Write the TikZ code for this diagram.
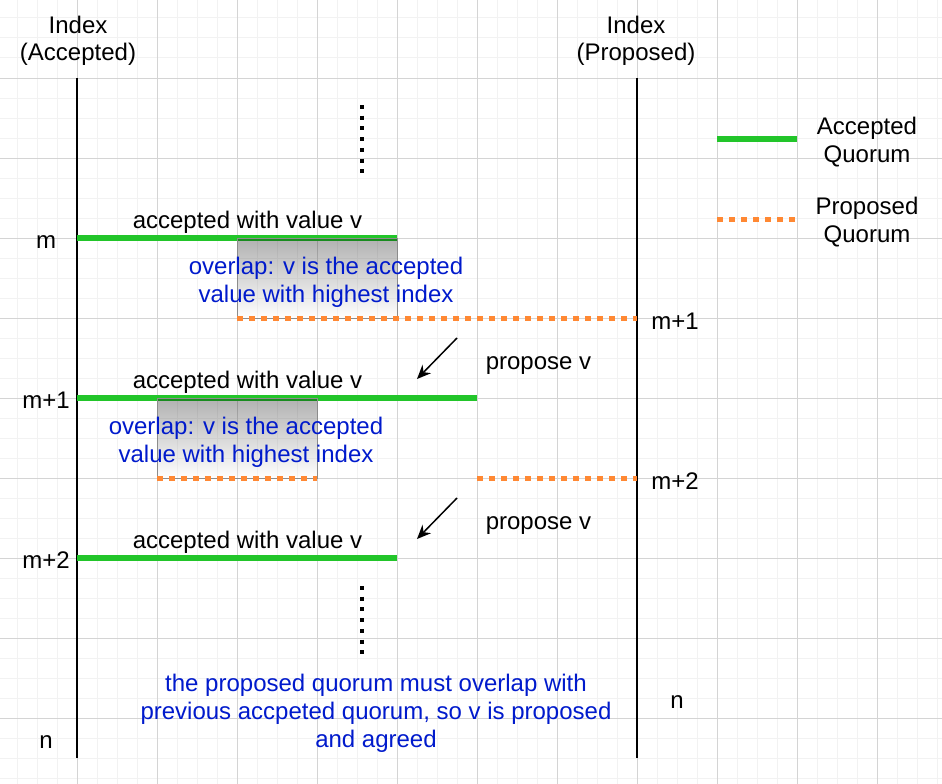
\documentclass[tikz,border=0pt]{standalone}
\usepackage{fontspec}
\setmainfont{Liberation Sans}
\usepackage{xcolor}
\usetikzlibrary{arrows.meta}

\definecolor{quorumgreen}{RGB}{34,197,42}
\definecolor{quorumorange}{RGB}{255,136,51}
\definecolor{noteblue}{RGB}{0,26,204}
\definecolor{gridminor}{RGB}{242,242,242}
\definecolor{gridmajor}{RGB}{212,212,212}

\tikzset{
  accepted/.style={draw=quorumgreen, line width=5.5pt},
  proposed/.style={draw=quorumorange, line width=5pt, dash pattern=on 6pt off 6pt},
  indexline/.style={draw=black, line width=2.5pt},
  dotline/.style={draw=black, line width=4pt, dash pattern=on 4pt off 6.7pt},
  overlapbox/.style={top color=black, bottom color=white, fill opacity=0.3, draw=black!45, line width=1pt},
  lbl/.style={font=\fontsize{24}{28}\selectfont, inner sep=0pt, align=center, anchor=base},
  note/.style={lbl, text=noteblue},
}

\begin{document}
\begin{tikzpicture}[x=1pt, y=-1pt]
            \useasboundingbox (0,0) rectangle (942,784);
            \fill[white] (0,0) rectangle (942,784);

            % grid
            \foreach \gx in {17,37,...,937} \draw[gridminor, line width=1pt] (\gx,0) -- (\gx,784);
            \foreach \gy in {18,38,...,778} \draw[gridminor, line width=1pt] (0,\gy) -- (942,\gy);
            \foreach \gx in {77,157,...,877} \draw[gridmajor, line width=1pt] (\gx,0) -- (\gx,784);
            \foreach \gy in {78,158,...,718} \draw[gridmajor, line width=1pt] (0,\gy) -- (942,\gy);

            % index axes
            \coordinate (acctop) at (77,78);
            \coordinate (accbot) at (77,758);
            \coordinate (proptop) at (637,78);
            \coordinate (propbot) at (637,758);
            \draw[indexline] (acctop) -- (accbot); % accepted
            \draw[indexline] (proptop) -- (propbot); % proposed
            \node[lbl] (idxacc) at (78,61) {Index\\(Accepted)};
            \node[lbl] (idxprop) at (636,61) {Index\\(Proposed)};

            % accepted quorums
            \draw[accepted] (77,238) -- (397,238); % m
            \draw[accepted] (77,398) -- (477,398); % m+1
            \draw[accepted] (77,558) -- (397,558); % m+2
            \node[lbl] (accm) at (247.5,228) {accepted with value v};
            \node[lbl] (accmone) at (247.5,388) {accepted with value v};
            \node[lbl] (accmtwo) at (247.5,548) {accepted with value v};

            % overlaps
            \shadedraw[overlapbox] (237,238) rectangle (397,318);
            \shadedraw[overlapbox] (157,398) rectangle (317,478);

            % proposed quorums
            \draw[proposed] (237,318) -- (637,318); % m+1
            \draw[proposed] (157,478) -- (317,478); % m+2
            \draw[proposed] (477,478) -- (637,478);

            \node[note] (ovlone) at (326,302) {overlap: v is the accepted\\value with highest index};
            \node[note] (ovltwo) at (246,462) {overlap: v is the accepted\\value with highest index};

            % propose arrows
            \coordinate (propsone) at (457,338);
            \coordinate (propeone) at (417,379);
            \coordinate (propstwo) at (457,498);
            \coordinate (propetwo) at (417,539);
            \draw[line width=1.5pt, -{Stealth[length=14pt, width=12pt]}] (propsone) -- (propeone);
            \draw[line width=1.5pt, -{Stealth[length=14pt, width=12pt]}] (propstwo) -- (propetwo);
            \node[lbl] (propone) at (538.5,369) {propose v};
            \node[lbl] (proptwo) at (538.5,529) {propose v};

            % dots
            \draw[dotline] (362,105) -- (362,175);
            \draw[dotline] (362,586) -- (362,656);

            % index labels
            \node[lbl] (lm) at (46,248) {m};
            \node[lbl] (lmone) at (46,408) {m+1};
            \node[lbl] (lmtwo) at (46,568) {m+2};
            \node[lbl] (ln) at (46,748) {n};
            \node[lbl] (rmone) at (675,329) {m+1};
            \node[lbl] (rmtwo) at (675,489) {m+2};
            \node[lbl] (rn) at (677,708) {n};

            % legend
            \draw[accepted] (717,139) -- (797,139);
            \draw[proposed] (717,219) -- (797,219);
            \node[lbl] (legacc) at (867,162) {Accepted\\Quorum};
            \node[lbl] (legprop) at (867,242) {Proposed\\Quorum};

            \node[note] (summary) at (376,747) {the proposed quorum must overlap with\\previous accpeted quorum, so v is proposed\\and agreed};
        \end{tikzpicture}
\end{document}
